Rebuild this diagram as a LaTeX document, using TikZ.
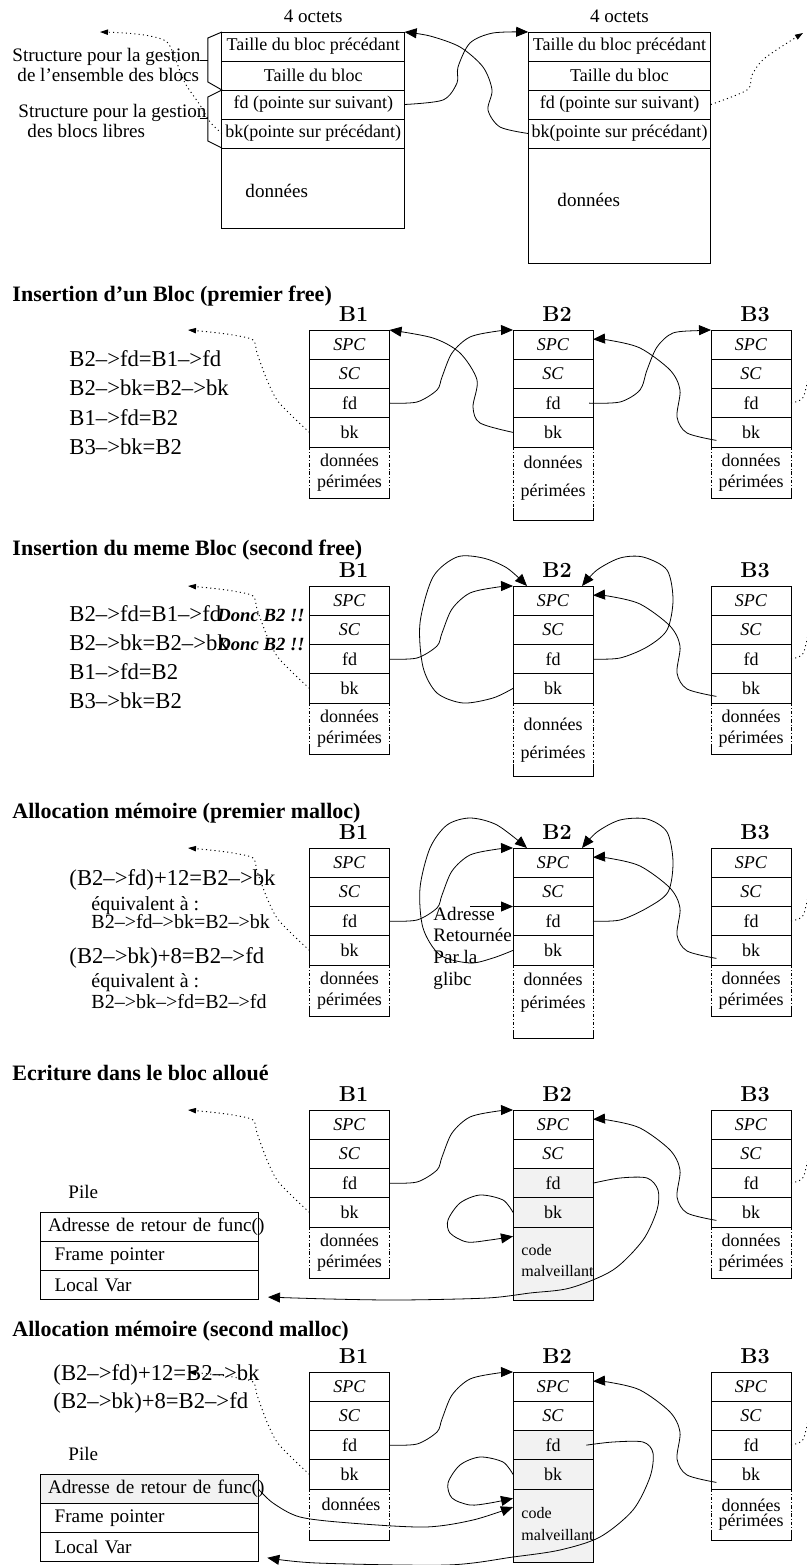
\documentclass[tikz,border=0pt]{standalone}
\usepackage{fontspec}
\setmainfont{Liberation Serif}
\usepackage{tikz}
\usetikzlibrary{positioning,arrows.meta}
\definecolor{grisclair}{gray}{0.95}

\begin{document}
\begin{tikzpicture}[x=0.75pt,y=-0.75pt,line width=0.7pt,
  grande/.style={rectangle,draw,minimum width=137pt,minimum height=21.75pt,inner sep=0pt,outer sep=0pt,font=\fontsize{13.5}{16}\selectfont},
  case/.style={rectangle,draw,minimum width=60pt,minimum height=21.94pt,inner sep=0pt,outer sep=0pt,font=\fontsize{13.5}{15.75}\selectfont},
  zone/.style={case,draw=none,align=center,minimum height=38.25pt},
  zone2/.style={case,draw=none,minimum height=54.75pt},
  gris/.style={fill=grisclair},
  pile/.style={rectangle,draw,minimum width=163.5pt,minimum height=21.94pt,text width=151.5pt,inner xsep=6pt,inner ysep=0pt,outer sep=0pt,align=left,font=\fontsize{14.4}{17}\selectfont},
  texte/.style={inner sep=0pt,anchor=base west,font=\fontsize{14.3}{17}\selectfont},
  petit/.style={texte,font=\fontsize{12}{14}\selectfont},
  donnees/.style={inner sep=0pt,align=center,font=\fontsize{13.5}{15.75}\selectfont},
  formule/.style={inner sep=0pt,anchor=base west,font=\fontsize{17}{20}\selectfont},
  sousformule/.style={formule,font=\fontsize{15}{18}\selectfont},
  donc/.style={inner sep=0pt,anchor=base east,font=\fontsize{14}{16}\selectfont\bfseries\itshape},
  titre/.style={inner sep=0pt,anchor=base west,font=\fontsize{16.5}{19}\selectfont\bfseries},
  nom/.style={inner sep=0pt,font=\fontfamily{lmr}\fontseries{bx}\fontsize{16.2}{19}\selectfont},
  fleche/.style={-{Triangle[length=9pt,width=7.5pt]},line width=0.6pt},
  pointille/.style={line width=0.6pt,dash pattern=on 2.5pt off 1.5pt on 0.6pt off 1.5pt},
  guide/.style={-{Triangle[length=6pt,width=4pt]},line width=0.7pt,dash pattern=on 0.8pt off 2.4pt}]
\useasboundingbox (0,0) rectangle (806,1565);

% structure d'un bloc
\node[texte] (T-s1) at (12,61.5) {Structure pour la gestion};
\node[texte] (T-s2) at (17,81.5) {de l’ensemble des blocs};
\node[texte] (T-s3) at (18,118) {Structure pour la gestion};
\node[texte] (T-s4) at (27,138) {des blocs libres};

\node[grande,anchor=north] (T1-pre) at (313.25,32) {Taille du bloc précédant};
\node[grande,below=0pt of T1-pre] (T1-taille) {Taille du bloc};
\node[grande,below=0pt of T1-taille] (T1-fd) {fd (pointe sur suivant)};
\node[grande,below=0pt of T1-fd] (T1-bk) {bk(pointe sur précédant)};
\node[grande,below=0pt of T1-bk,minimum height=60pt] (T1-data) {};
\node[texte] (T1-donnees) at (245,198) {données};
\node[texte,above=6.5pt of T1-pre] (T1-octets) {4 octets};

\node[grande,anchor=north] (T2-pre) at (619.5,32) {Taille du bloc précédant};
\node[grande,below=0pt of T2-pre] (T2-taille) {Taille du bloc};
\node[grande,below=0pt of T2-taille] (T2-fd) {fd (pointe sur suivant)};
\node[grande,below=0pt of T2-fd] (T2-bk) {bk(pointe sur précédant)};
\node[grande,below=0pt of T2-bk,minimum height=86.25pt] (T2-data) {};
\node[texte] (T2-donnees) at (557,206.5) {données};
\node[texte,above=6.5pt of T2-pre] (T2-octets) {4 octets};

\draw (T1-pre.north west) -- ++(-14,6) -- ++(0,44) -- (T1-taille.south west) -- ++(-14,7) -- ++(0,44) -- (T1-bk.south west);
\draw (200,60) -- (208,60);
\draw (200,118) -- (208,118);

\draw[fleche] plot[smooth] coordinates {(T1-fd.east) (443,100) (457,83) (458,67) (470,43) (493,33) (T2-pre.north west)};
\draw[fleche] plot[smooth] coordinates {(T2-bk.west) (500,127) (488,110) (492,90) (483,67) (460,47) (430,36) (T1-pre.north east)};
\coordinate (T-gauche) at (100,32);
\coordinate (T-droite) at (803,33);
\draw[guide] plot[smooth] coordinates {(T1-bk.west) (210,122) (200,105) (185,83) (175,58) (167,42) (150,36) (125,33) (T-gauche)};
\draw[guide] plot[smooth] coordinates {(T2-fd.east) (747,90) (752,75) (765,58) (T-droite)};

% Insertion d'un Bloc (premier free)
\begin{scope}[shift={(0,330)}]
\node[titre] (I-titre) at (12,-28.5) {Insertion d’un Bloc (premier free)};
\node[formule] (I-f1) at (69,36.5) {B2–>fd=B1–>fd};
\node[formule] (I-f2) at (69,66) {B2–>bk=B2–>bk};
\node[formule] (I-f3) at (69,95) {B1–>fd=B2};
\node[formule] (I-f4) at (69,124) {B3–>bk=B2};

\node[case,anchor=north] (I-B1-spc) at (349.5,0) {\textit{SPC}};
\node[case,below=0pt of I-B1-spc] (I-B1-sc) {\textit{SC}};
\node[case,below=0pt of I-B1-sc] (I-B1-fd) {fd};
\node[case,below=0pt of I-B1-fd] (I-B1-bk) {bk};
\node[zone,below=0pt of I-B1-bk] (I-B1-data) {données\\périmées};
\node[nom,above=6pt of I-B1-spc,xshift=3pt] (I-B1) {B1};

\node[case,anchor=north] (I-B2-spc) at (553,0) {\textit{SPC}};
\node[case,below=0pt of I-B2-spc] (I-B2-sc) {\textit{SC}};
\node[case,below=0pt of I-B2-sc] (I-B2-fd) {fd};
\node[case,below=0pt of I-B2-fd] (I-B2-bk) {bk};
\node[zone2,below=0pt of I-B2-bk] (I-B2-data) {};
\node[donnees] (I-B2-txt) at (553,148.3) {données\\[5.5pt]périmées};
\node[nom,above=6pt of I-B2-spc,xshift=3pt] (I-B2) {B2};

\node[case,anchor=north] (I-B3-spc) at (751,0) {\textit{SPC}};
\node[case,below=0pt of I-B3-spc] (I-B3-sc) {\textit{SC}};
\node[case,below=0pt of I-B3-sc] (I-B3-fd) {fd};
\node[case,below=0pt of I-B3-fd] (I-B3-bk) {bk};
\node[zone,below=0pt of I-B3-bk] (I-B3-data) {données\\périmées};
\node[nom,above=6pt of I-B3-spc,xshift=3pt] (I-B3) {B3};

\draw[pointille] (I-B1-data.north west) -- (I-B1-data.south west) (I-B1-data.north east) -- (I-B1-data.south east);
\draw (I-B1-data.south west) ++(0,-10) -- (I-B1-data.south west) -- (I-B1-data.south east) -- ++(0,-10);
\draw[pointille] (I-B2-data.north west) -- (I-B2-data.south west) (I-B2-data.north east) -- (I-B2-data.south east);
\draw (I-B2-data.south west) ++(0,-12) -- (I-B2-data.south west) -- (I-B2-data.south east) -- ++(0,-12);
\draw[pointille] (I-B3-data.north west) -- (I-B3-data.south west) (I-B3-data.north east) -- (I-B3-data.south east);
\draw (I-B3-data.south west) ++(0,-10) -- (I-B3-data.south west) -- (I-B3-data.south east) -- ++(0,-10);

\draw[fleche] plot[smooth] coordinates {(I-B1-fd.east) (417,72) (437,60) (442,47) (452,23) (470,7) (498,1) (I-B2-spc.north west)};
\draw[fleche] plot[smooth] coordinates {(I-B2-bk.west) (480,93) (473,77) (477,50) (460,23) (433,8) (I-B1-spc.north east)};
\draw[fleche] plot[smooth] coordinates {([xshift=-3pt]I-B2-fd.east) (620,72) (640,60) (647,40) (657,17) (673,3) (700,0.5) (I-B3-spc.north west)};
\draw[fleche] plot[smooth] coordinates {([xshift=4pt,yshift=-6pt]I-B3-bk.west) (687,103) (677,87) (680,60) (670,40) (640,18) (608,10) ([yshift=4pt]I-B2-spc.east)};
\coordinate (I-gauche) at (188,0);
\coordinate (I-droite) at (815,30);
\draw[guide] plot[smooth] coordinates {(I-B1-bk.west) (293,87) (277,70) (267,50) (257,23) (253,10) (233,5) (210,2) (I-gauche)};
\draw[guide] plot[smooth] coordinates {(I-B3-fd.east) (802,69) (806,58) (809,45) (I-droite)};
\end{scope}

% Insertion du meme Bloc (second free)
\begin{scope}[shift={(0,586)}]
\node[titre] (J-titre) at (12,-31) {Insertion du meme Bloc (second free)};
\node[formule] (J-f1) at (69,35.7) {B2–>fd=B1–>fd};
\node[formule] (J-f2) at (69,64.7) {B2–>bk=B2–>bk};
\node[formule] (J-f3) at (69,93.3) {B1–>fd=B2};
\node[formule] (J-f4) at (69,122.3) {B3–>bk=B2};
\node[donc] (J-donc1) at (305,35.7) {Donc B2 !!};
\node[donc] (J-donc2) at (305,64.7) {Donc B2 !!};

\node[case,anchor=north] (J-B1-spc) at (349.5,0) {\textit{SPC}};
\node[case,below=0pt of J-B1-spc] (J-B1-sc) {\textit{SC}};
\node[case,below=0pt of J-B1-sc] (J-B1-fd) {fd};
\node[case,below=0pt of J-B1-fd] (J-B1-bk) {bk};
\node[zone,below=0pt of J-B1-bk] (J-B1-data) {données\\périmées};
\node[nom,above=6pt of J-B1-spc,xshift=3pt] (J-B1) {B1};

\node[case,anchor=north] (J-B2-spc) at (553,0) {\textit{SPC}};
\node[case,below=0pt of J-B2-spc] (J-B2-sc) {\textit{SC}};
\node[case,below=0pt of J-B2-sc] (J-B2-fd) {fd};
\node[case,below=0pt of J-B2-fd] (J-B2-bk) {bk};
\node[zone2,below=0pt of J-B2-bk] (J-B2-data) {};
\node[donnees] (J-B2-txt) at (553,153.8) {données\\[5.25pt]périmées};
\node[nom,above=6pt of J-B2-spc,xshift=3pt] (J-B2) {B2};

\node[case,anchor=north] (J-B3-spc) at (751,0) {\textit{SPC}};
\node[case,below=0pt of J-B3-spc] (J-B3-sc) {\textit{SC}};
\node[case,below=0pt of J-B3-sc] (J-B3-fd) {fd};
\node[case,below=0pt of J-B3-fd] (J-B3-bk) {bk};
\node[zone,below=0pt of J-B3-bk] (J-B3-data) {données\\périmées};
\node[nom,above=6pt of J-B3-spc,xshift=3pt] (J-B3) {B3};

\draw[pointille] (J-B1-data.north west) -- (J-B1-data.south west) (J-B1-data.north east) -- (J-B1-data.south east);
\draw (J-B1-data.south west) ++(0,-10) -- (J-B1-data.south west) -- (J-B1-data.south east) -- ++(0,-10);
\draw[pointille] (J-B2-data.north west) -- (J-B2-data.south west) (J-B2-data.north east) -- (J-B2-data.south east);
\draw (J-B2-data.south west) ++(0,-12) -- (J-B2-data.south west) -- (J-B2-data.south east) -- ++(0,-12);
\draw[pointille] (J-B3-data.north west) -- (J-B3-data.south west) (J-B3-data.north east) -- (J-B3-data.south east);
\draw (J-B3-data.south west) ++(0,-10) -- (J-B3-data.south west) -- (J-B3-data.south east) -- ++(0,-10);

\draw[fleche] plot[smooth] coordinates {(J-B1-fd.east) (417,72) (437,60) (442,47) (452,23) (470,7) (498,1) (J-B2-spc.north west)};
\draw[fleche] plot[smooth] coordinates {(J-B2-bk.west) (493,112) (463,117) (437,107) (423,81) (420,37) (433,-9) (457,-29) (483,-28) (507,-18) ([xshift=10.5pt]J-B2-spc.north west)};
\draw[fleche] plot[smooth] coordinates {(J-B2-fd.east) (620,72) (647,61) (667,44) (673,14) (667,-16) (643,-29) (620,-28) (597,-16) ([xshift=-8.25pt]J-B2-spc.north east)};
\draw[fleche] plot[smooth] coordinates {([xshift=4pt,yshift=-6pt]J-B3-bk.west) (687,103) (677,87) (680,60) (670,40) (640,18) (608,10) ([yshift=4pt]J-B2-spc.east)};
\coordinate (J-gauche) at (188,0);
\coordinate (J-droite) at (815,30);
\draw[guide] plot[smooth] coordinates {(J-B1-bk.west) (293,87) (277,70) (267,50) (257,23) (253,10) (233,5) (210,2) (J-gauche)};
\draw[guide] plot[smooth] coordinates {(J-B3-fd.east) (802,69) (806,58) (809,45) (J-droite)};
\end{scope}

% Allocation memoire (premier malloc)
\begin{scope}[shift={(0,848)}]
\node[titre] (M-titre) at (12,-30) {Allocation mémoire (premier malloc)};
\node[formule] (M-f1) at (69,37) {(B2–>fd)+12=B2–>bk};
\node[sousformule] (M-f2) at (91,62) {équivalent à :};
\node[sousformule] (M-f3) at (91,80) {B2–>fd–>bk=B2–>bk};
\node[formule] (M-f4) at (69,115.5) {(B2–>bk)+8=B2–>fd};
\node[sousformule] (M-f5) at (91,139) {équivalent à :};
\node[sousformule] (M-f6) at (91,160) {B2–>bk–>fd=B2–>fd};

\node[case,anchor=north] (M-B1-spc) at (349.5,0) {\textit{SPC}};
\node[case,below=0pt of M-B1-spc] (M-B1-sc) {\textit{SC}};
\node[case,below=0pt of M-B1-sc] (M-B1-fd) {fd};
\node[case,below=0pt of M-B1-fd] (M-B1-bk) {bk};
\node[zone,below=0pt of M-B1-bk] (M-B1-data) {données\\périmées};
\node[nom,above=6pt of M-B1-spc,xshift=3pt] (M-B1) {B1};

\node[case,anchor=north] (M-B2-spc) at (553,0) {\textit{SPC}};
\node[case,below=0pt of M-B2-spc] (M-B2-sc) {\textit{SC}};
\node[case,below=0pt of M-B2-sc] (M-B2-fd) {fd};
\node[case,below=0pt of M-B2-fd] (M-B2-bk) {bk};
\node[zone2,below=0pt of M-B2-bk] (M-B2-data) {};
\node[donnees] (M-B2-txt) at (553,144.5) {données\\[1.75pt]périmées};
\node[nom,above=6pt of M-B2-spc,xshift=3pt] (M-B2) {B2};

\node[case,anchor=north] (M-B3-spc) at (751,0) {\textit{SPC}};
\node[case,below=0pt of M-B3-spc] (M-B3-sc) {\textit{SC}};
\node[case,below=0pt of M-B3-sc] (M-B3-fd) {fd};
\node[case,below=0pt of M-B3-fd] (M-B3-bk) {bk};
\node[zone,below=0pt of M-B3-bk] (M-B3-data) {données\\périmées};
\node[nom,above=6pt of M-B3-spc,xshift=3pt] (M-B3) {B3};

\node[texte] (M-adr1) at (433,72) {Adresse};
\node[texte] (M-adr2) at (433,93.5) {Retournée};
\node[texte] (M-adr3) at (433,115) {Par la};
\node[texte] (M-adr4) at (433,137) {glibc};

\draw[pointille] (M-B1-data.north west) -- (M-B1-data.south west) (M-B1-data.north east) -- (M-B1-data.south east);
\draw (M-B1-data.south west) ++(0,-10) -- (M-B1-data.south west) -- (M-B1-data.south east) -- ++(0,-10);
\draw[pointille] (M-B2-data.north west) -- (M-B2-data.south west) (M-B2-data.north east) -- (M-B2-data.south east);
\draw (M-B2-data.south west) ++(0,-6) -- (M-B2-data.south west) -- (M-B2-data.south east) -- ++(0,-6);
\draw[pointille] (M-B3-data.north west) -- (M-B3-data.south west) (M-B3-data.north east) -- (M-B3-data.south east);
\draw (M-B3-data.south west) ++(0,-10) -- (M-B3-data.south west) -- (M-B3-data.south east) -- ++(0,-10);

\draw[fleche] plot[smooth] coordinates {(M-B1-fd.east) (417,72) (437,60) (442,47) (452,23) (470,7) (498,1) (M-B2-spc.north west)};
\draw[fleche] plot[smooth] coordinates {(M-B2-bk.west) (493,110) (470,115) (440,107) (423,80) (420,40) (430,0) (447,-23) (470,-30) (497,-23) ([xshift=10.5pt]M-B2-spc.north west)};
\draw[fleche] plot[smooth] coordinates {(M-B2-fd.east) (620,72) (647,60) (668,44) (673,14) (667,-16) (647,-29) (620,-28) (597,-16) ([xshift=-8.25pt]M-B2-spc.north east)};
\draw[fleche] plot[smooth] coordinates {([xshift=4pt,yshift=-6pt]M-B3-bk.west) (687,103) (677,87) (680,60) (670,40) (640,18) (608,10) ([yshift=4pt]M-B2-spc.east)};
\coordinate (M-adr) at (470,58.5);
\draw[fleche] (M-adr) -- (M-B2-fd.north west);
\coordinate (M-gauche) at (188,0);
\coordinate (M-droite) at (815,30);
\draw[guide] plot[smooth] coordinates {(M-B1-bk.west) (293,87) (277,70) (267,50) (257,23) (253,10) (233,5) (210,2) (M-gauche)};
\draw[guide] plot[smooth] coordinates {(M-B3-fd.east) (802,69) (806,58) (809,45) (M-droite)};
\end{scope}

% Ecriture dans le bloc alloue
\begin{scope}[shift={(0,1110)}]
\node[titre] (E-titre) at (12,-30) {Ecriture dans le bloc alloué};
\node[texte] (E-pile) at (68,88.3) {Pile};
\node[pile,anchor=north west] (E-adr) at (40,102) {\mbox{Adresse de retour de func()}};
\node[pile,below=0pt of E-adr] (E-fp) {\hspace*{5pt}Frame pointer};
\node[pile,below=0pt of E-fp] (E-var) {\hspace*{5pt}Local Var};

\node[case,anchor=north] (E-B1-spc) at (349.5,0) {\textit{SPC}};
\node[case,below=0pt of E-B1-spc] (E-B1-sc) {\textit{SC}};
\node[case,below=0pt of E-B1-sc] (E-B1-fd) {fd};
\node[case,below=0pt of E-B1-fd] (E-B1-bk) {bk};
\node[zone,below=0pt of E-B1-bk] (E-B1-data) {données\\périmées};
\node[nom,above=6pt of E-B1-spc,xshift=3pt] (E-B1) {B1};

\node[case,anchor=north] (E-B2-spc) at (553,0) {\textit{SPC}};
\node[case,below=0pt of E-B2-spc] (E-B2-sc) {\textit{SC}};
\node[case,gris,below=0pt of E-B2-sc] (E-B2-fd) {fd};
\node[case,gris,below=0pt of E-B2-fd] (E-B2-bk) {bk};
\node[case,gris,below=0pt of E-B2-bk,minimum height=54.75pt] (E-B2-data) {};
\node[petit] (E-code) at (521,145) {code};
\node[petit] (E-malv) at (521,166.7) {malveillant};
\node[nom,above=6pt of E-B2-spc,xshift=3pt] (E-B2) {B2};

\node[case,anchor=north] (E-B3-spc) at (751,0) {\textit{SPC}};
\node[case,below=0pt of E-B3-spc] (E-B3-sc) {\textit{SC}};
\node[case,below=0pt of E-B3-sc] (E-B3-fd) {fd};
\node[case,below=0pt of E-B3-fd] (E-B3-bk) {bk};
\node[zone,below=0pt of E-B3-bk] (E-B3-data) {données\\périmées};
\node[nom,above=6pt of E-B3-spc,xshift=3pt] (E-B3) {B3};

\draw[pointille] (E-B1-data.north west) -- (E-B1-data.south west) (E-B1-data.north east) -- (E-B1-data.south east);
\draw (E-B1-data.south west) ++(0,-10) -- (E-B1-data.south west) -- (E-B1-data.south east) -- ++(0,-10);
\draw[pointille] (E-B3-data.north west) -- (E-B3-data.south west) (E-B3-data.north east) -- (E-B3-data.south east);
\draw (E-B3-data.south west) ++(0,-10) -- (E-B3-data.south west) -- (E-B3-data.south east) -- ++(0,-10);

\draw[fleche] plot[smooth] coordinates {(E-B1-fd.east) (417,72) (437,60) (442,47) (452,23) (470,7) (498,1) (E-B2-spc.north west)};
\draw[fleche] plot[smooth] coordinates {(E-B2-bk.west) (503,90) (480,85) (460,93) (448,110) (450,123) (467,132) (490,130) ([yshift=-7pt]E-B2-data.north west)};
\draw[fleche] plot[smooth] coordinates {(E-B2-fd.east) (620,68) (647,68) (658,80) (657,100) (643,130) (613,160) (570,178) (530,183) (487,188) (400,190) (330,189) ([xshift=7.5pt,yshift=2pt]E-var.south east)};
\draw[fleche] plot[smooth] coordinates {([xshift=4pt,yshift=-6pt]E-B3-bk.west) (687,103) (677,87) (680,60) (670,40) (640,18) (608,10) ([yshift=4pt]E-B2-spc.east)};
\coordinate (E-gauche) at (188,0);
\coordinate (E-droite) at (815,30);
\draw[guide] plot[smooth] coordinates {(E-B1-bk.west) (293,87) (277,70) (267,50) (257,23) (253,10) (233,5) (210,2) (E-gauche)};
\draw[guide] plot[smooth] coordinates {(E-B3-fd.east) (802,69) (806,58) (809,45) (E-droite)};
\end{scope}

% Allocation memoire (second malloc)
\begin{scope}[shift={(0,1372)}]
\node[titre] (N-titre) at (12,-35.5) {Allocation mémoire (second malloc)};
\node[formule] (N-f1) at (53,8.7) {(B2–>fd)+12=B2–>bk};
\node[formule] (N-f2) at (53,36.3) {(B2–>bk)+8=B2–>fd};
\node[texte] (N-pile) at (68,88) {Pile};
\node[pile,gris,anchor=north west] (N-adr) at (40,102) {\mbox{Adresse de retour de func()}};
\node[pile,below=0pt of N-adr] (N-fp) {\hspace*{5pt}Frame pointer};
\node[pile,below=0pt of N-fp] (N-var) {\hspace*{5pt}Local Var};

\node[case,anchor=north] (N-B1-spc) at (349.5,0) {\textit{SPC}};
\node[case,below=0pt of N-B1-spc] (N-B1-sc) {\textit{SC}};
\node[case,below=0pt of N-B1-sc] (N-B1-fd) {fd};
\node[case,below=0pt of N-B1-fd] (N-B1-bk) {bk};
\node[zone,below=0pt of N-B1-bk] (N-B1-data) {};
\node[donnees] (N-B1-txt) at (351,132) {données};
\node[nom,above=6pt of N-B1-spc,xshift=3pt] (N-B1) {B1};

\node[case,anchor=north] (N-B2-spc) at (553,0) {\textit{SPC}};
\node[case,below=0pt of N-B2-spc] (N-B2-sc) {\textit{SC}};
\node[case,gris,below=0pt of N-B2-sc] (N-B2-fd) {fd};
\node[case,gris,below=0pt of N-B2-fd] (N-B2-bk) {bk};
\node[case,gris,below=0pt of N-B2-bk,minimum height=54.75pt] (N-B2-data) {};
\node[petit] (N-code) at (521,146.3) {code};
\node[petit] (N-malv) at (521,168) {malveillant};
\node[nom,above=6pt of N-B2-spc,xshift=3pt] (N-B2) {B2};

\node[case,anchor=north] (N-B3-spc) at (751,0) {\textit{SPC}};
\node[case,below=0pt of N-B3-spc] (N-B3-sc) {\textit{SC}};
\node[case,below=0pt of N-B3-sc] (N-B3-fd) {fd};
\node[case,below=0pt of N-B3-fd] (N-B3-bk) {bk};
\node[zone,below=0pt of N-B3-bk] (N-B3-data) {données\\[-4.5pt]périmées};
\node[nom,above=6pt of N-B3-spc,xshift=3pt] (N-B3) {B3};

\draw[pointille] (N-B1-data.north west) -- (N-B1-data.south west) (N-B1-data.north east) -- (N-B1-data.south east);
\draw (N-B1-data.south west) ++(0,-10) -- (N-B1-data.south west) -- (N-B1-data.south east) -- ++(0,-10);
\draw[pointille] (N-B3-data.north west) -- (N-B3-data.south west) (N-B3-data.north east) -- (N-B3-data.south east);
\draw (N-B3-data.south west) ++(0,-10) -- (N-B3-data.south west) -- (N-B3-data.south east) -- ++(0,-10);

\draw[fleche] plot[smooth] coordinates {(N-B1-fd.east) (417,72) (437,60) (442,47) (452,23) (470,7) (498,1) (N-B2-spc.north west)};
\draw[fleche] plot[smooth] coordinates {(N-B2-bk.west) (503,90) (480,85) (460,93) (448,111) (452,126) (470,133) (490,131) ([yshift=-7pt]N-B2-data.north west)};
\draw[fleche] plot[smooth] coordinates {([xshift=-5pt]N-B2-fd.east) (613,70) (643,70) (653,81) (650,105) (633,138) (600,165) (560,178) (513,185) (447,193) (317,191) ([xshift=7pt,yshift=3pt]N-var.south east)};
\draw[fleche] plot[smooth] coordinates {(N-adr.east) (273,131) (300,145) (350,151) (425,155) (473,148) ([yshift=-13.5pt]N-B2-data.north west)};
\draw[fleche] plot[smooth] coordinates {([xshift=4pt,yshift=-6pt]N-B3-bk.west) (687,103) (677,87) (680,60) (670,40) (640,18) (608,10) ([yshift=4pt]N-B2-spc.east)};
\coordinate (N-gauche) at (188,0);
\coordinate (N-droite) at (815,30);
\draw[guide] plot[smooth] coordinates {(N-B1-bk.west) (293,87) (277,70) (267,50) (257,23) (253,10) (233,5) (210,2) (N-gauche)};
\draw[guide] plot[smooth] coordinates {(N-B3-fd.east) (802,69) (806,58) (809,45) (N-droite)};
\end{scope}
\end{tikzpicture}
\end{document}
